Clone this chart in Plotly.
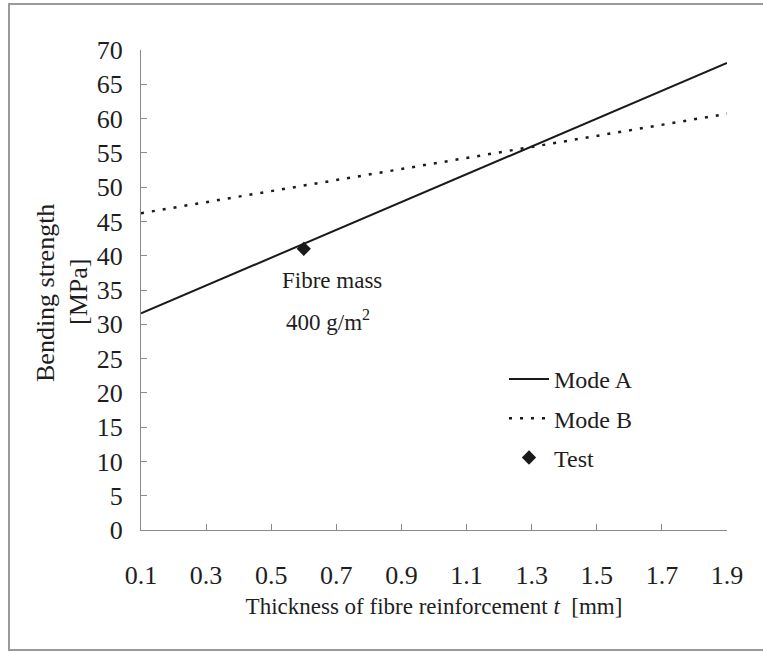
import plotly.graph_objects as go

# ---- data ----
thickness = [0.1, 1.9]
mode_a = [31.6, 68.1]
mode_b = [46.2, 60.7]
test_x = [0.6]
test_y = [41.0]
x_ticks = [0.1, 0.3, 0.5, 0.7, 0.9, 1.1, 1.3, 1.5, 1.7, 1.9]
y_ticks = list(range(0, 71, 5))

FONT = "Liberation Serif"
INK = "#1e1e1e"
AX = "#8a8a8a"

fig = go.Figure()
fig.add_trace(go.Scatter(x=thickness, y=mode_a, mode="lines", name="Mode A", legendgroup="a",
                         line=dict(color="#1a1a1a", width=2)))
fig.add_trace(go.Scatter(x=thickness, y=mode_b, mode="lines", name="Mode B", legendgroup="b",
                         line=dict(color="#1a1a1a", width=2.5, dash="3px,8px")))
fig.add_trace(go.Scatter(x=test_x, y=test_y, mode="markers", name="Test", legendgroup="c",
                         marker=dict(symbol="diamond", size=11, color="#1a1a1a")))

W, H = 763, 652
L, R, T, B = 141, 36, 50, 122
pw, ph = W - L - R, H - T - B

def px_x(p):
    return (p - L) / pw

def px_y(p):
    return (H - B - p) / ph

fig.update_layout(
    width=W, height=H,
    margin=dict(l=L, r=R, t=T, b=B),
    paper_bgcolor="white", plot_bgcolor="white",
    font=dict(family=FONT, size=22, color=INK),
    showlegend=True,
    legend=dict(x=px_x(504), y=px_y(357), xanchor="left", yanchor="top",
                bgcolor="rgba(0,0,0,0)", font=dict(size=24, family=FONT, color=INK),
                traceorder="grouped", tracegroupgap=5, itemwidth=40),
    xaxis=dict(range=[0.1, 1.9], tickvals=x_ticks, ticktext=[f"{v:.1f}" for v in x_ticks],
               showline=True, linecolor=AX, linewidth=1, mirror=False,
               ticks="inside", ticklen=6, tickcolor=AX, showgrid=False, zeroline=False,
               ticklabelstandoff=22,
               tickfont=dict(size=26, family=FONT, color=INK),
               title=dict(text="Thickness of fibre reinforcement <i>t</i>  [mm]",
                          font=dict(size=23, family=FONT, color=INK), standoff=8)),
    yaxis=dict(range=[0, 70], tickvals=y_ticks,
               showline=True, linecolor=AX, linewidth=1,
               ticks="inside", ticklen=6, tickcolor=AX, showgrid=False, zeroline=False,
               ticklabelstandoff=12,
               tickfont=dict(size=26, family=FONT, color=INK)),
)

# y-axis title as two rotated lines
fig.add_annotation(xref="paper", yref="paper", x=px_x(45), y=px_y(293), text="Bending strength",
                   textangle=-90, showarrow=False, xanchor="center", yanchor="middle",
                   font=dict(size=26, family=FONT, color=INK))
fig.add_annotation(xref="paper", yref="paper", x=px_x(78), y=px_y(292), text="[MPa]",
                   textangle=-90, showarrow=False, xanchor="center", yanchor="middle",
                   font=dict(size=26, family=FONT, color=INK))

# in-plot annotation
fig.add_annotation(xref="paper", yref="paper", x=px_x(332), y=px_y(280), text="Fibre mass",
                   showarrow=False, xanchor="center", yanchor="middle",
                   font=dict(size=23, family=FONT, color=INK))
fig.add_annotation(xref="paper", yref="paper", x=px_x(328), y=px_y(320), text="400 g/m<sup>2</sup>",
                   showarrow=False, xanchor="center", yanchor="middle",
                   font=dict(size=23, family=FONT, color=INK))

# scanned-page frame (top, left, bottom edges)
x_r, x_l = px_x(800), px_x(9)
y_t, y_b = px_y(4), px_y(650)
fig.add_shape(type="path", xref="paper", yref="paper",
              path=f"M {x_r} {y_t} L {x_l} {y_t} L {x_l} {y_b} L {x_r} {y_b}",
              line=dict(color="#9a9a9a", width=2), layer="below")

fig.write_html("out.html")
